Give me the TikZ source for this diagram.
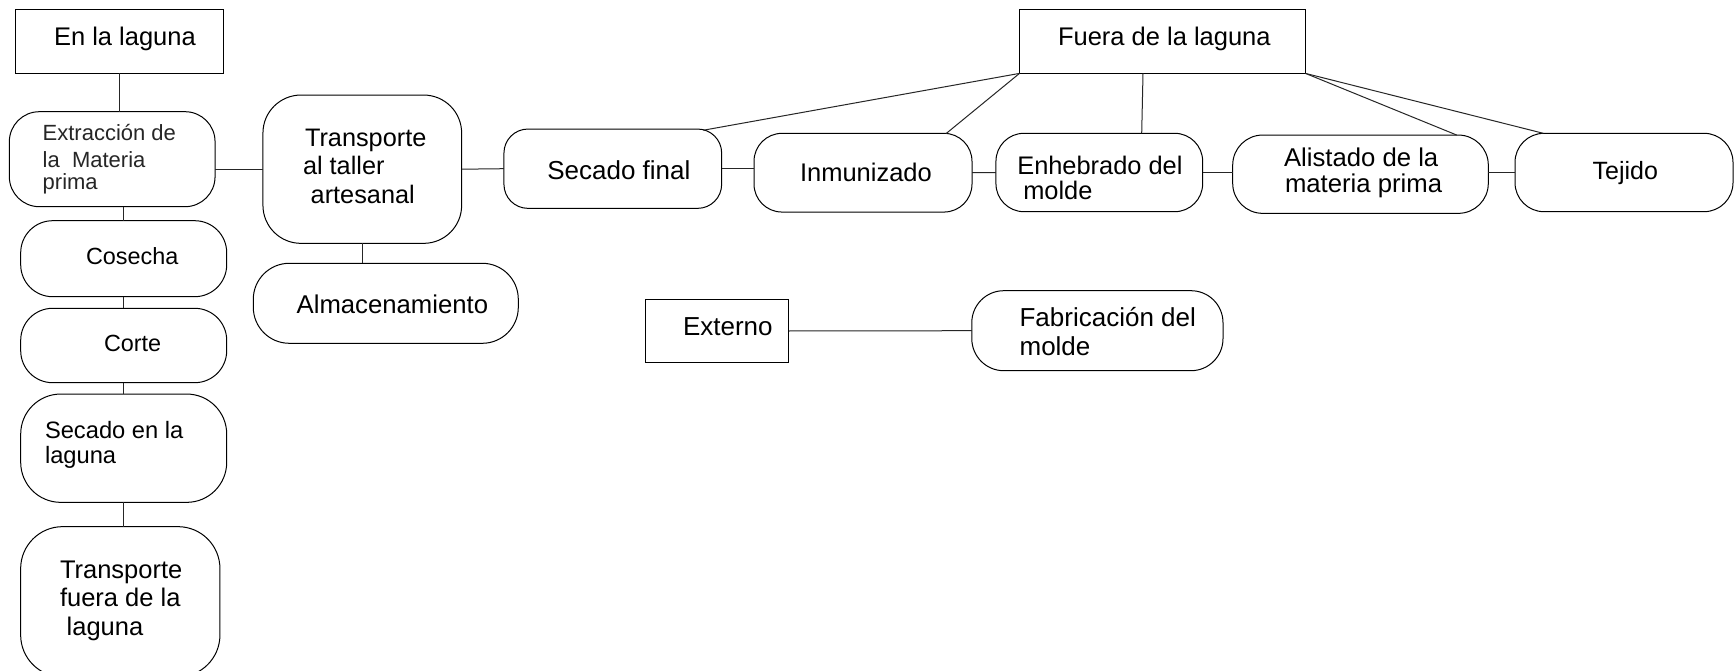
\documentclass[tikz,border=0pt]{standalone}
\usepackage{fontspec}
\setmainfont{Liberation Sans}
\usetikzlibrary{calc}
\begin{document}
\begin{tikzpicture}[x=1pt,y=-1pt,
  box/.style={draw=black, line width=1pt, inner sep=0pt, outer sep=0pt, fill=white},
  rbox/.style={box, rounded corners=#1},
  txt/.style={anchor=base west, inner sep=0pt, outer sep=0pt, text=black, font=\fontsize{25.5}{28}\selectfont},
  link/.style={draw=black!85, line width=1pt}]
\useasboundingbox[fill=white] (0,0) rectangle (1735,671);

% boxes
\node[box, minimum width=208pt, minimum height=64pt] (enla) at (119,41.5) {};
\node[box, minimum width=286pt, minimum height=64pt] (fuera) at (1162.5,41.4) {};
\node[rbox=30pt, minimum width=205.7pt, minimum height=95pt] (extr) at (112.2,159.2) {};
\node[rbox=38pt, minimum width=198.7pt, minimum height=148.3pt] (tra) at (362.3,169.2) {};
\node[rbox=36pt, minimum width=265pt, minimum height=80pt] (alm) at (385.8,303.3) {};
\node[rbox=32pt, minimum width=206pt, minimum height=76pt] (cos) at (123.7,258.7) {};
\node[rbox=32pt, minimum width=206pt, minimum height=74.4pt] (cor) at (123.7,345.5) {};
\node[rbox=40pt, minimum width=206pt, minimum height=108.3pt] (sel) at (123.7,448.2) {};
\node[rbox=42pt, minimum width=199.3pt, minimum height=150.3pt] (tfl) at (120.3,601.8) {};
\node[rbox=24pt, minimum width=217.7pt, minimum height=79.3pt] (sf) at (612.8,168.7) {};
\node[rbox=28pt, minimum width=218pt, minimum height=78.7pt] (inm) at (863,172.7) {};
\node[rbox=28pt, minimum width=206.7pt, minimum height=78.4pt] (enh) at (1099.3,172.5) {};
\node[rbox=30pt, minimum width=255.6pt, minimum height=78.3pt] (ali) at (1360.5,174.2) {};
\node[rbox=29pt, minimum width=218pt, minimum height=78.4pt] (tej) at (1624,172.5) {};
\node[box, minimum width=143.5pt, minimum height=63.4pt] (ext) at (717.2,331) {};
\node[rbox=32pt, minimum width=251.2pt, minimum height=80pt] (fab) at (1097.4,330.7) {};

% connectors
\draw[link] (enla.south) -- (enla.south |- extr.north);
\draw[link] (extr.south -| cos.north) -- (cos.north);
\draw[link] (cos.south) -- (cor.north);
\draw[link] (cor.south) -- (sel.north);
\draw[link] (sel.south) -- (sel.south |- tfl.north);
\draw[link] (extr.east |- tra.west) -- (tra.west);
\draw[link] (tra.east) -- (sf.west);
\draw[link] (tra.south) -- (tra.south |- alm.north);
\draw[link] (sf.east) -- (sf.east -| inm.west);
\draw[link] (inm.east) -- (enh.west);
\draw[link] (enh.east) -- (enh.east -| ali.west);
\draw[link] (ali.east |- tej.west) -- (tej.west);
\draw[link] (ext.east) -- (fab.west);
\draw[link] (fuera.south west) -- ($(sf.north east)+(-18.4,1.2)$);
\draw[link] (fuera.south west) -- ($(inm.north east)+(-26,0.3)$);
\draw[link] ($(fuera.south)+(-19.5,0)$) -- ($(enh.north)+(42.4,0)$);
\draw[link] (fuera.south east) -- ($(ali.north east)+(-31.6,0)$);
\draw[link] (fuera.south east) -- ($(tej.north west)+(28.3,0)$);

% texts
\node[txt] (enla-t) at (54,45.5) {En la laguna};
\node[txt] (fuera-t) at (1058,45.4) {Fuera de la laguna};
\node[txt, text=black!85, font=\fontsize{22}{26}\selectfont] (extr-t1) at (42.7,141) {Extracción de};
\node[txt, text=black!85, font=\fontsize{22}{26}\selectfont] (extr-t2) at (42.7,167.5) {la\ \ Materia};
\node[txt, text=black!85, font=\fontsize{22}{26}\selectfont] (extr-t3) at (42.7,190) {prima};
\node[txt, font=\fontsize{25.3}{28}\selectfont] (tra-t1) at (305,146.7) {Transporte};
\node[txt, font=\fontsize{25.3}{28}\selectfont] (tra-t2) at (303,175) {al taller};
\node[txt, font=\fontsize{25.3}{28}\selectfont] (tra-t3) at (310.7,203.3) {artesanal};
\node[txt, font=\fontsize{25.7}{28}\selectfont] (alm-t) at (296.7,313.3) {Almacenamiento};
\node[txt, font=\fontsize{23.4}{26}\selectfont] (cos-t) at (86,265) {Cosecha};
\node[txt, font=\fontsize{23.4}{26}\selectfont] (cor-t) at (104,351.7) {Corte};
\node[txt, font=\fontsize{23.7}{26}\selectfont] (sel-t1) at (45,438.3) {Secado en la};
\node[txt, font=\fontsize{23.7}{26}\selectfont] (sel-t2) at (45,463.3) {laguna};
\node[txt] (tfl-t1) at (60,578.3) {Transporte};
\node[txt] (tfl-t2) at (60,606.7) {fuera de la};
\node[txt] (tfl-t3) at (66.7,635) {laguna};
\node[txt, font=\fontsize{26}{28}\selectfont] (sf-t) at (547.3,179.3) {Secado final};
\node[txt] (inm-t) at (800,181.6) {Inmunizado};
\node[txt, font=\fontsize{25.4}{28}\selectfont] (enh-t1) at (1017.3,175) {Enhebrado del};
\node[txt, font=\fontsize{25.4}{28}\selectfont] (enh-t2) at (1023.3,200) {molde};
\node[txt, font=\fontsize{25.7}{28}\selectfont] (ali-t1) at (1284,166.7) {Alistado de la};
\node[txt, font=\fontsize{25.7}{28}\selectfont] (ali-t2) at (1285,192.7) {materia prima};
\node[txt, font=\fontsize{25}{28}\selectfont] (tej-t) at (1592.7,179.3) {Tejido};
\node[txt, font=\fontsize{26}{28}\selectfont] (ext-t) at (683,335) {Externo};
\node[txt, font=\fontsize{26}{28}\selectfont] (fab-t1) at (1019.6,326.7) {Fabricación del};
\node[txt, font=\fontsize{26}{28}\selectfont] (fab-t2) at (1019.6,355) {molde};
\end{tikzpicture}
\end{document}
